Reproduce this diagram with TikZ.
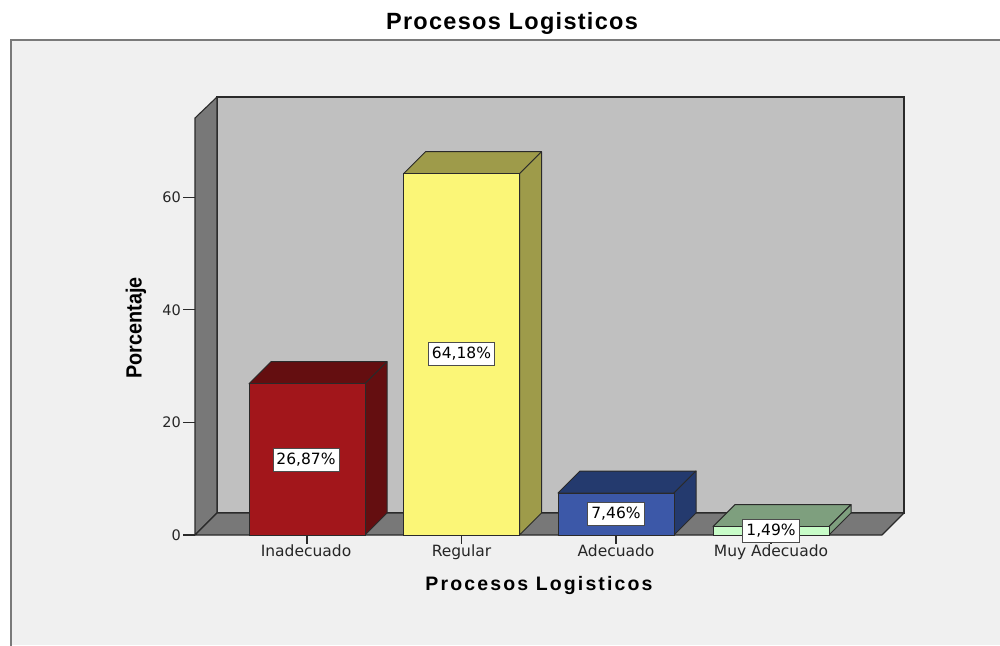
\documentclass[tikz,border=0pt]{standalone}
\usepackage{fontspec}
\setmainfont{DejaVu Sans}
\newfontfamily\labfont{DejaVu Sans}
\newfontfamily\titfont{Liberation Sans}[LetterSpace=5.5]
\newfontfamily\xtitfont{Liberation Sans}[LetterSpace=11]
\newfontfamily\ytitfont{Liberation Sans}
\definecolor{framebg}{HTML}{F0F0F0}
\definecolor{framegray}{HTML}{7A7A7A}
\definecolor{wallback}{HTML}{C0C0C0}
\definecolor{wallside}{HTML}{787878}
\definecolor{edge}{HTML}{2A2A2A}
\definecolor{redF}{HTML}{A2161B}
\definecolor{redD}{HTML}{640E10}
\definecolor{yelF}{HTML}{FBF677}
\definecolor{yelD}{HTML}{9E9B4A}
\definecolor{bluF}{HTML}{3C58A8}
\definecolor{bluD}{HTML}{243A6E}
\definecolor{grnF}{HTML}{C8FCC8}
\definecolor{grnD}{HTML}{7E9F7E}
\newcommand\mybar[4]{%
  \filldraw[fill=#4,draw=edge,line width=1pt,line join=round] (#1,#2) -- ({#1+22},{#2-22}) -- ({#1+138},{#2-22}) -- ({#1+116},#2) -- cycle;
  \filldraw[fill=#4,draw=edge,line width=1pt,line join=round] ({#1+116},#2) -- ({#1+138},{#2-22}) -- ({#1+138},513) -- ({#1+116},535) -- cycle;
  \filldraw[fill=#3,draw=edge,line width=1pt] (#1,#2) rectangle ({#1+116},535);
}
\tikzset{
  vallabel/.style={fill=white,draw=black!70,line width=0.8pt,inner xsep=3.5pt,inner ysep=0pt,minimum height=23pt,font=\labfont\fontsize{15.5}{17}\selectfont},
  ticklabel/.style={anchor=east,inner sep=0pt,font=\labfont\fontsize{14.5}{16}\selectfont,text=black!85},
  catlabel/.style={anchor=north,inner sep=0pt,font=\labfont\fontsize{15.5}{17}\selectfont,text=black!85},
  tickline/.style={draw=edge,line width=1.2pt}
}
\begin{document}
\begin{tikzpicture}[x=1pt,y=-1pt]
\useasboundingbox (0,0) rectangle (1000,645);
\fill[white] (0,0) rectangle (1000,645);
\fill[framebg] (11,40) rectangle (1000,645);
\draw[framegray,line width=2pt] (11,646) -- (11,40) -- (1001,40);
% title
\node (title) at (512,23) {\titfont\bfseries\fontsize{23.5}{26}\selectfont Procesos Logisticos};
% walls
\filldraw[fill=wallback,draw=edge,line width=1.1pt] (217,97) rectangle (904,513);
\filldraw[fill=wallside,draw=edge,line width=1.1pt,line join=round] (195,535) -- (195,118) -- (217,97) -- (217,513) -- cycle;
\filldraw[fill=wallside,draw=edge,line width=1.1pt,line join=round] (195,535) -- (882,535) -- (904,513) -- (217,513) -- cycle;
% y ticks
\foreach \v/\yy in {0/535,20/422.4,40/309.8,60/197.2}{
  \draw[tickline] (183,\yy) -- (195,\yy);
  \node[ticklabel] (yt\v) at (181,\yy) {\v};
}
% category ticks
\foreach \cx in {307,461.5,616,771}{
  \draw[tickline] (\cx,535) -- (\cx,544);
}
% bars
\mybar{249}{383.7}{redF}{redD}
\mybar{403.5}{173.7}{yelF}{yelD}
\mybar{558}{493}{bluF}{bluD}
\mybar{713}{526.6}{grnF}{grnD}
% value labels
\node[vallabel] (v1) at (306,459.5) {26,87\%};
\node[vallabel] (v2) at (461.5,354) {64,18\%};
\node[vallabel] (v3) at (616,514) {7,46\%};
\node[vallabel] (v4) at (771,531) {1,49\%};
% category labels
\node[catlabel] (c1) at (306,545) {Inadecuado};
\node[catlabel] (c2) at (461.5,545) {Regular};
\node[catlabel] (c3) at (616,545) {Adecuado};
\node[catlabel] (c4) at (771,545) {Muy Adecuado};
% axis titles
\node (xtitle) at (539,585) {\xtitfont\bfseries\fontsize{19.5}{22}\selectfont Procesos Logisticos};
\node[rotate=90] (ytitle) at (136,328) {\scalebox{0.9}[1]{\ytitfont\bfseries\fontsize{22}{24}\selectfont Porcentaje}};
\end{tikzpicture}
\end{document}
